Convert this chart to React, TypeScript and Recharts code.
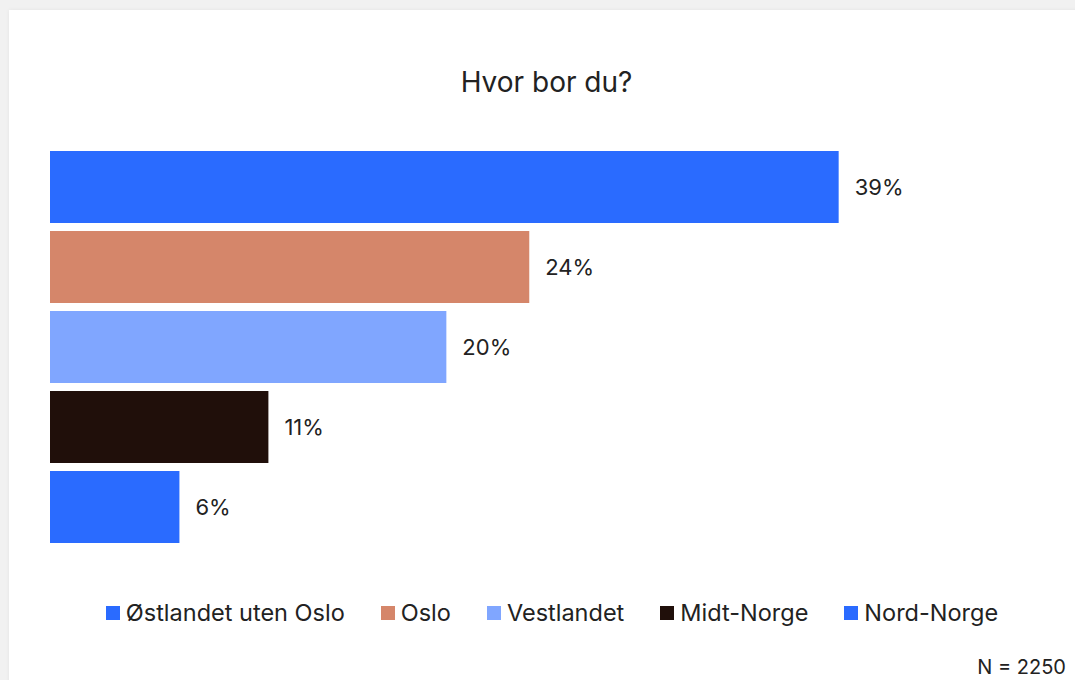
import React from 'react';
import { BarChart, Bar, XAxis, YAxis, Cell, LabelList, Legend } from 'recharts';

const regions = ['Østlandet uten Oslo', 'Oslo', 'Vestlandet', 'Midt-Norge', 'Nord-Norge'];
const shares = [39.0, 23.7, 19.6, 10.8, 6.4];
const colors = ['#2a6bff', '#d5866a', '#80a6ff', '#200f0a', '#2a6bff'];

const data = regions.map((name, i) => ({ name, value: shares[i], color: colors[i] }));

const FONT = 'Inter, "Noto Sans", sans-serif';

const renderLegend = () => (
  <div style={{ display: 'flex', justifyContent: 'center', alignItems: 'center', height: 25, fontFamily: FONT, fontSize: 23.5, color: '#222' }}>
    {data.map((d) => (
      <div key={d.name} style={{ display: 'flex', alignItems: 'center', margin: '0 18px' }}>
        <span style={{ width: 14, height: 14, background: d.color, marginRight: 6, display: 'inline-block' }} />
        <span>{d.name}</span>
      </div>
    ))}
  </div>
);

const App: React.FC = () => {
  return (
    <div style={{ position: 'absolute', left: 0, top: 0, width: 1075, height: 680, background: '#f1f1f1', overflow: 'hidden' }}>
      <div style={{ position: 'absolute', left: 9, top: 10, width: 1100, height: 700, background: '#fff', boxShadow: '0 0 4px rgba(0,0,0,0.06)' }} />
      <div style={{ position: 'absolute', left: 0, top: 65, width: 1093, textAlign: 'center', fontFamily: FONT, fontSize: 28, color: '#222' }}>
        Hvor bor du?
      </div>
      <div style={{ position: 'absolute', left: 0, top: 0 }}>
        <BarChart
          width={1075}
          height={680}
          data={data}
          layout="vertical"
          margin={{ top: 147, left: 50, right: 115, bottom: 108 }}
          barCategoryGap={4}
        >
          <XAxis type="number" domain={[0, 45]} hide />
          <YAxis type="category" dataKey="name" hide />
          <Legend
            content={renderLegend}
            verticalAlign="bottom"
            wrapperStyle={{ top: 600, left: 0, width: 1104, height: 25 }}
          />
          <Bar dataKey="value" isAnimationActive={false}>
            {data.map((d, i) => (
              <Cell key={`cell-${i}`} fill={d.color} />
            ))}
            <LabelList
              dataKey="value"
              position="right"
              offset={16}
              formatter={(v: number) => `${Math.round(v)}%`}
              style={{ fontFamily: FONT, fontSize: 22, fill: '#222' }}
            />
          </Bar>
        </BarChart>
      </div>
      <div style={{ position: 'absolute', right: 9, top: 655, fontFamily: FONT, fontSize: 20, color: '#222' }}>
        N = 2250
      </div>
    </div>
  );
};

export default App;
